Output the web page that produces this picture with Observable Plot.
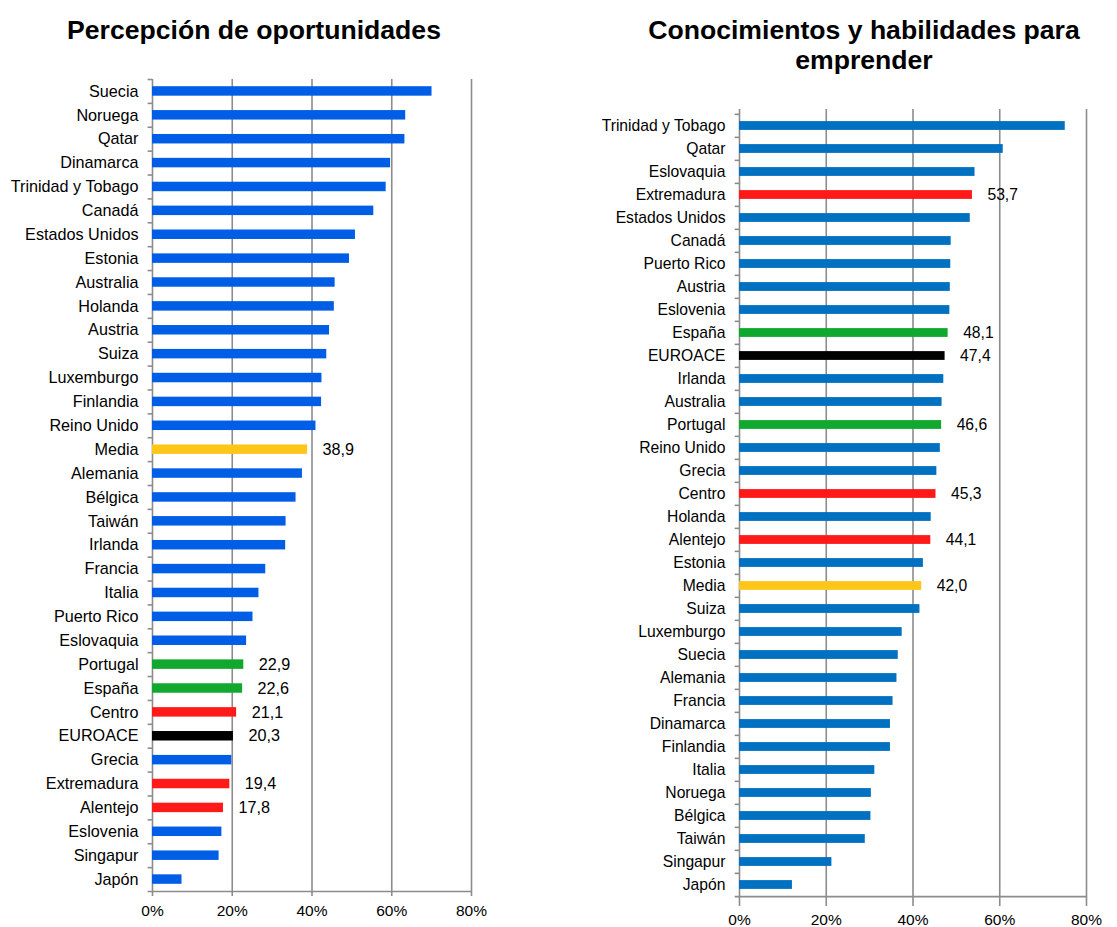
<!DOCTYPE html>
<html><head><meta charset="utf-8">
<script src="https://cdn.jsdelivr.net/npm/d3@7"></script>
<script src="https://cdn.jsdelivr.net/npm/@observablehq/plot@0.6"></script>
<style>
html,body{margin:0;padding:0;overflow:hidden}
body{background:#fff;width:1117px;height:927px;position:relative;font-family:"Liberation Sans",Arial,sans-serif}
.panel{position:absolute}
.panel svg{max-width:none !important;display:block}
.title{position:absolute;text-align:center;font-weight:bold;font-size:26.6px;line-height:30px;color:#000;white-space:nowrap}
</style></head><body>
<div class="title" style="left:0;width:508px;top:15px">Percepción de oportunidades</div>
<div class="title" style="left:600px;width:528px;top:15px">Conocimientos y habilidades para<br>emprender</div>
<div class="panel" id="c1" style="left:0;top:70px;width:500px;height:857px"></div>
<div class="panel" id="c2" style="left:560px;top:100px;width:557px;height:827px"></div>
<script>
const oportunidadesPaises = ["Suecia","Noruega","Qatar","Dinamarca","Trinidad y Tobago","Canadá","Estados Unidos","Estonia","Australia","Holanda","Austria","Suiza","Luxemburgo","Finlandia","Reino Unido","Media","Alemania","Bélgica","Taiwán","Irlanda","Francia","Italia","Puerto Rico","Eslovaquia","Portugal","España","Centro","EUROACE","Grecia","Extremadura","Alentejo","Eslovenia","Singapur","Japón"];
const oportunidadesValores = [70.1,63.5,63.3,59.7,58.6,55.5,50.9,49.4,45.8,45.6,44.4,43.7,42.5,42.4,41.0,38.9,37.6,36.0,33.5,33.4,28.4,26.7,25.2,23.6,22.9,22.6,21.1,20.3,19.9,19.4,17.8,17.4,16.7,7.4];
const conocimientosPaises = ["Trinidad y Tobago","Qatar","Eslovaquia","Extremadura","Estados Unidos","Canadá","Puerto Rico","Austria","Eslovenia","España","EUROACE","Irlanda","Australia","Portugal","Reino Unido","Grecia","Centro","Holanda","Alentejo","Estonia","Media","Suiza","Luxemburgo","Suecia","Alemania","Francia","Dinamarca","Finlandia","Italia","Noruega","Bélgica","Taiwán","Singapur","Japón"];
const conocimientosValores = [75.1,60.8,54.3,53.7,53.2,48.8,48.7,48.6,48.5,48.1,47.4,47.1,46.7,46.6,46.3,45.5,45.3,44.2,44.1,42.4,42.0,41.6,37.5,36.6,36.3,35.4,34.8,34.8,31.2,30.4,30.3,29.0,21.3,12.2];
const regiones = ["Extremadura","Centro","Alentejo"];
const paises = ["España","Portugal"];
const euroace = ["EUROACE"];
const media = ["Media"];
const ticksX = [0,20,40,60,80];

const grupo = n => regiones.includes(n) ? "region" : paises.includes(n) ? "pais" : euroace.includes(n) ? "euroace" : media.includes(n) ? "media" : "otro";
const fmt = v => v.toFixed(1).replace(".", ",");
const GRID = "#8c8c8c";

function chart(names, values, o) {
  const data = names.map((n, i) => ({name: n, value: values[i], g: grupo(n)}));
  const step = (o.height - o.mt - o.mb) / names.length;
  return Plot.plot({
    width: o.width, height: o.height,
    marginLeft: o.ml, marginRight: o.mr, marginTop: o.mt, marginBottom: o.mb,
    style: {fontFamily: '"Liberation Sans", Arial, sans-serif', background: "white", color: "black"},
    x: {domain: [0, 80], label: null},
    y: {domain: names, padding: 0, label: null},
    color: {domain: ["otro","region","pais","euroace","media"], range: [o.blue, "#ff1a1a", "#10a82e", "#000000", "#ffc61a"]},
    marks: [
      Plot.ruleX(ticksX.slice(1), {stroke: GRID, strokeWidth: 1.6}),
      Plot.ruleX([0], {stroke: GRID, strokeWidth: 1.6}),
      Plot.ruleY(names, {y: d => d, x1: o.tickLen, x2: 0, dy: -step / 2, stroke: GRID, strokeWidth: 1.6}),
      Plot.ruleY(names.slice(-1), {y: d => d, x1: o.tickLen, x2: 80, dy: step / 2, stroke: GRID, strokeWidth: 1.6}),
      Plot.barX(data, {x: "value", y: "name", fill: "g", insetTop: o.inset, insetBottom: o.inset}),
      Plot.text(data.filter(d => d.g !== "otro"), {x: "value", y: "name", text: d => fmt(d.value), textAnchor: "start", dx: 15, fontSize: o.fs, fill: "black"}),
      Plot.axisX({ticks: ticksX, tickFormat: d => d + "%", tickSize: 5, tickPadding: o.xpad, stroke: GRID, strokeWidth: 1.6, fill: "black", fontSize: o.xfs, label: null}),
      Plot.axisY({tickSize: 0, tickPadding: 14, fontSize: o.fs, fill: "black", label: null})
    ]
  });
}

document.getElementById("c1").append(chart(oportunidadesPaises, oportunidadesValores,
  {width: 500, height: 857, ml: 152, mr: 29, mt: 9, mb: 36, blue: "#005ee6", inset: 7.2, fs: 16.2, xfs: 15.5, xpad: 8, tickLen: -1.1}));
document.getElementById("c2").append(chart(conocimientosPaises, conocimientosValores,
  {width: 557, height: 827, ml: 179, mr: 31, mt: 9, mb: 26, blue: "#0070c0", inset: 7.1, fs: 15.7, xfs: 15.5, xpad: 7, tickLen: -1.0}));
</script>
</body></html>
